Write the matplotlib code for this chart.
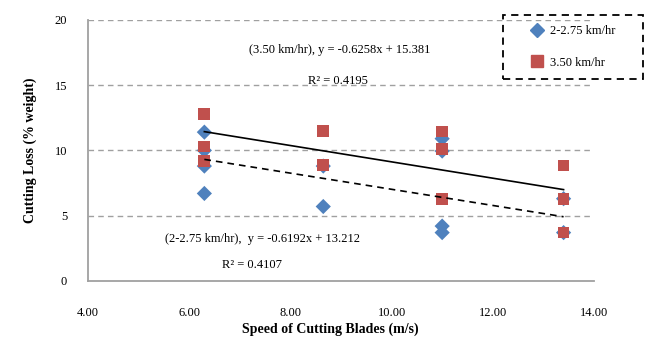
"""
Cutting loss vs. speed of cutting blades (Excel-style scatter with trendlines)
"""

import matplotlib.pyplot as plt
import numpy as np
from matplotlib.lines import Line2D
from matplotlib.patches import Rectangle

plt.rcParams['font.family'] = 'Liberation Serif'
plt.rcParams['font.size'] = 9

# 2-2.75 km/hr series
speed_low = [6.3, 6.3, 6.3, 6.3, 8.65, 8.65, 11.0, 11.0, 11.0, 11.0, 13.4, 13.4]
loss_low = [11.4, 10.0, 8.8, 6.7, 8.8, 5.7, 10.9, 9.95, 4.2, 3.7, 6.3, 3.7]

# 3.50 km/hr series
speed_high = [6.3, 6.3, 6.3, 8.65, 8.65, 11.0, 11.0, 11.0, 13.4, 13.4, 13.4]
loss_high = [12.8, 10.3, 9.2, 11.5, 8.9, 11.45, 10.1, 6.3, 8.85, 6.3, 3.7]

# trendline coefficients (as printed on the chart)
slope_low, icpt_low, r2_low = -0.6192, 13.212, 0.4107
slope_high, icpt_high, r2_high = -0.6258, 15.381, 0.4195

blue = '#4F81BD'
red = '#C0504D'

fig = plt.figure(figsize=(6.47, 3.38), dpi=100)
ax = fig.add_axes([0.136, 0.169, 0.782, 0.772])

# gridlines
for yv in [5, 10, 15, 20]:
    ax.axhline(yv, color='#A0A0A0', linestyle=(0, (4, 3)), linewidth=1.0, zorder=1)

ax.scatter(speed_low, loss_low, marker='D', s=60, color=blue, edgecolors='none', zorder=3)
ax.scatter(speed_high, loss_high, marker='s', s=72, color=red, edgecolors='none', zorder=4)

# trendlines between min and max speed
xs = np.array([min(speed_high), max(speed_high)])
ax.plot(xs, slope_high * xs + icpt_high, color='black', linewidth=1.2, zorder=5)
xs = np.array([min(speed_low), max(speed_low)])
ax.plot(xs, slope_low * xs + icpt_low, color='black', linewidth=1.2,
        linestyle=(0, (4, 3)), zorder=5)

ax.text(8.98, 17.7, f'(3.50 km/hr), y = {slope_high}x + {icpt_high}',
        ha='center', va='center', fontsize=9)
ax.text(8.94, 15.3, f'R² = {r2_high}', ha='center', va='center', fontsize=9)
ax.text(7.44, 3.2, f'(2-2.75 km/hr),  y = {slope_low}x + {icpt_low}',
        ha='center', va='center', fontsize=9)
ax.text(7.24, 1.2, f'R² = {r2_low}', ha='center', va='center', fontsize=9)

ax.set_xlim(4, 14)
ax.set_ylim(0, 20)
ax.set_xticks([4, 6, 8, 10, 12, 14])
ax.set_xticklabels([f'{v:.2f}' for v in [4, 6, 8, 10, 12, 14]])
ax.set_yticks([0, 5, 10, 15, 20])
ax.tick_params(axis='both', length=0, labelsize=9)
ax.tick_params(axis='x', pad=19)
ax.tick_params(axis='y', pad=15)

for side in ['top', 'right']:
    ax.spines[side].set_visible(False)
for side in ['left', 'bottom']:
    ax.spines[side].set_color('#A0A0A0')
    ax.spines[side].set_linewidth(1.3)

fig.text(0.047, 0.555, 'Cutting Loss (% weight)', rotation=90, ha='center',
         va='center', fontsize=10, fontweight='bold')
fig.text(0.51, 0.026, 'Speed of Cutting Blades (m/s)', ha='center',
         va='center', fontsize=10, fontweight='bold')

# legend box (dashed, Excel style), drawn separately so it can be wider
box = Rectangle((503 / 647, 1 - 79 / 338), 140 / 647, 64 / 338,
                transform=fig.transFigure, fill=False, edgecolor='black',
                linewidth=1.3, linestyle=(0, (4, 3)))
fig.patches.append(box)

handles = [Line2D([], [], marker='D', color=blue, linestyle='none', markersize=7.5),
           Line2D([], [], marker='s', color=red, linestyle='none', markersize=8.5)]
fig.legend(handles, ['2-2.75 km/hr', '3.50 km/hr'],
           loc='center left', bbox_to_anchor=(528 / 647, 1 - 47 / 338),
           frameon=False, fontsize=9, labelspacing=1.55, handletextpad=0.25,
           borderpad=0, borderaxespad=0, handlelength=1.5)

plt.savefig('out.png', dpi=100)
plt.close()
